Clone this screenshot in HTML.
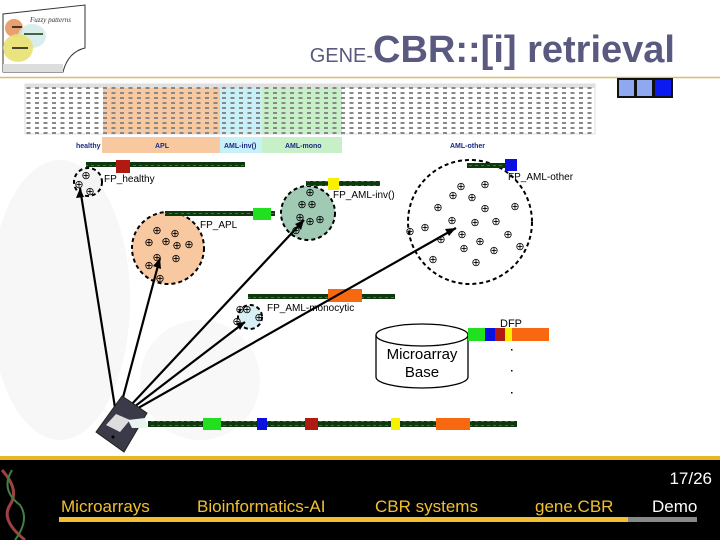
<!DOCTYPE html>
<html><head><meta charset="utf-8"><style>
html,body{margin:0;padding:0;width:720px;height:540px;overflow:hidden;background:#fff;font-family:"Liberation Sans",sans-serif}
</style></head><body>
<svg width="720" height="540" viewBox="0 0 720 540" xmlns="http://www.w3.org/2000/svg" font-family="Liberation Sans, sans-serif">
<defs>
<pattern id="cells" x="25" y="86" width="8.5" height="5" patternUnits="userSpaceOnUse">
<rect x="1.5" y="1" width="4" height="2" fill="#888"/>
</pattern>
<pattern id="gene" x="0" y="0" width="6" height="4" patternUnits="userSpaceOnUse">
<rect width="6" height="4" fill="#0d3a0d"/><rect x="1" y="1" width="3" height="1" fill="#3a7a3a"/>
</pattern>
</defs>
<ellipse cx="60" cy="300" rx="70" ry="140" fill="#f7f7f7"/>
<ellipse cx="200" cy="380" rx="60" ry="60" fill="#f8f8f8"/>
<path d="M3,14 L85,5 L85,48 Q68,52 63,72 L3,72 Z" fill="#fff" stroke="#333" stroke-width="1"/>
<ellipse cx="14" cy="28" rx="9" ry="9" fill="#e8a070"/>
<ellipse cx="32" cy="36" rx="14" ry="12" fill="#cfe8e8" opacity="0.8"/>
<ellipse cx="18" cy="48" rx="15" ry="14" fill="#e8e070" opacity="0.9"/>
<rect x="3" y="64" width="60" height="8" fill="#ddd"/>
<text x="30" y="22" font-size="7" font-style="italic" fill="#333" font-family="Liberation Serif, serif">Fuzzy patterns</text>
<line x1="12" y1="27" x2="22" y2="27" stroke="#111" stroke-width="1.5"/>
<line x1="24" y1="34" x2="43" y2="34" stroke="#0d3a0d" stroke-width="1.5"/>
<line x1="12" y1="48" x2="28" y2="48" stroke="#111" stroke-width="1.5"/>
<text x="675" y="62" text-anchor="end" fill="#5a5a80" font-weight="bold"><tspan font-size="20" font-weight="normal">GENE-</tspan><tspan font-size="38">CBR::[i] retrieval</tspan></text>
<line x1="0" y1="77.5" x2="720" y2="77.5" stroke="#d8c060" stroke-width="1.5"/>
<rect x="617" y="78" width="56" height="20" fill="#111"/>
<rect x="619" y="80" width="15" height="16" fill="#8fa8f0"/>
<rect x="637" y="80" width="15" height="16" fill="#8fa8f0"/>
<rect x="655" y="80" width="16" height="16" fill="#0a1af0"/>
<rect x="25" y="84" width="570" height="50" fill="#fff" stroke="#bbb" stroke-width="0.5"/>
<rect x="103" y="88" width="117" height="46" fill="#f8c8a0"/>
<rect x="220" y="88" width="42" height="46" fill="#c8f0f8"/>
<rect x="262" y="88" width="80" height="46" fill="#c8f0c8"/>
<rect x="25" y="84" width="570" height="4" fill="#e0e0e0"/>
<rect x="25" y="86" width="570" height="48" fill="url(#cells)"/>
<rect x="102" y="137" width="118" height="16" fill="#f8c8a0"/>
<rect x="220" y="137" width="42" height="16" fill="#c8f0f8"/>
<rect x="262" y="137" width="80" height="16" fill="#c8f0c8"/>
<g font-size="7" fill="#1a2a80" font-weight="bold">
<text x="76" y="148">healthy</text><text x="155" y="148">APL</text><text x="224" y="148">AML-inv()</text><text x="285" y="148">AML-mono</text><text x="450" y="148">AML-other</text>
</g>
<circle cx="88" cy="182" r="14" fill="#f4f4f4" stroke="#000" stroke-width="2" stroke-dasharray="4,3"/>
<circle cx="168" cy="248" r="36" fill="#f8c8a0" stroke="#000" stroke-width="2" stroke-dasharray="4,3"/>
<circle cx="308" cy="213" r="27" fill="#a0cab4" stroke="#000" stroke-width="2" stroke-dasharray="4,3"/>
<circle cx="470" cy="222" r="62" fill="none" stroke="#000" stroke-width="2" stroke-dasharray="4,3"/>
<circle cx="250" cy="317" r="12" fill="#d8f0f4" stroke="#000" stroke-width="2" stroke-dasharray="4,3"/>
<g font-size="11" fill="#000" text-anchor="middle">
<text x="86" y="179">⊕</text><text x="79" y="188">⊕</text><text x="90" y="195">⊕</text>
<text x="157" y="234">⊕</text><text x="175" y="237">⊕</text><text x="149" y="246">⊕</text><text x="166" y="245">⊕</text><text x="177" y="249">⊕</text><text x="189" y="248">⊕</text><text x="157" y="261">⊕</text><text x="176" y="262">⊕</text><text x="149" y="269">⊕</text><text x="160" y="282">⊕</text>
<text x="310" y="196">⊕</text><text x="302" y="208">⊕</text><text x="312" y="208">⊕</text><text x="300" y="221">⊕</text><text x="310" y="225">⊕</text><text x="320" y="223">⊕</text><text x="296" y="234">⊕</text>
<text x="461" y="190">⊕</text><text x="453" y="199">⊕</text><text x="472" y="201">⊕</text><text x="485" y="188">⊕</text><text x="438" y="211">⊕</text><text x="485" y="212">⊕</text><text x="515" y="210">⊕</text><text x="452" y="224">⊕</text><text x="475" y="226">⊕</text><text x="496" y="225">⊕</text><text x="425" y="231">⊕</text><text x="410" y="235">⊕</text><text x="462" y="238">⊕</text><text x="480" y="245">⊕</text><text x="508" y="238">⊕</text><text x="441" y="243">⊕</text><text x="464" y="252">⊕</text><text x="494" y="254">⊕</text><text x="520" y="250">⊕</text><text x="433" y="263">⊕</text><text x="476" y="266">⊕</text>
<text x="240" y="313">⊕</text><text x="247" y="313">⊕</text><text x="237" y="325">⊕</text><text x="259" y="321">⊕</text>
</g>
<rect x="86" y="162" width="159" height="5" fill="url(#gene)"/><rect x="116" y="160" width="14" height="13" fill="#b01a10"/>
<rect x="165" y="211" width="110" height="5" fill="url(#gene)"/><rect x="253" y="208" width="18" height="12" fill="#20e020"/>
<rect x="306" y="181" width="74" height="5" fill="url(#gene)"/><rect x="328" y="178" width="11" height="12" fill="#f8f000"/>
<rect x="467" y="163" width="48" height="5" fill="url(#gene)"/><rect x="505" y="159" width="12" height="12" fill="#0a10e0"/>
<rect x="248" y="294" width="147" height="5" fill="url(#gene)"/><rect x="328" y="289" width="34" height="13" fill="#f86810"/>
<g font-size="10" fill="#000">
<text x="104" y="182">FP_healthy</text><text x="200" y="228">FP_APL</text><text x="333" y="198">FP_AML-inv()</text><text x="508" y="180">FP_AML-other</text><text x="267" y="311">FP_AML-monocytic</text>
</g>
<g stroke="#000" stroke-width="2.2">
<line x1="117" y1="420" x2="80" y2="188"/>
<line x1="117" y1="420" x2="160" y2="258"/>
<line x1="117" y1="420" x2="304" y2="220"/>
<line x1="117" y1="420" x2="456" y2="228"/>
<line x1="117" y1="420" x2="245" y2="322"/>
</g>
<g fill="#000">
<polygon points="80,188 76,198 84,197"/>
<polygon points="160,258 153,266 161,269"/>
<polygon points="304,220 295,224 301,230"/>
<polygon points="456,228 445,229 449,236"/>
<polygon points="245,322 236,323 240,330"/>
</g>
<polygon points="96,432 122,396 147,413 124,452" fill="#3a3a48" stroke="#222"/>
<polygon points="106,425 116,414 130,420 120,432" fill="#ddd"/>
<polygon points="128,420 145,418 148,428 132,428" fill="#e8f4f0"/>
<circle cx="113" cy="437" r="1.5" fill="#000"/>
<path d="M376,335 L376,377 A46,11 0 0 0 468,377 L468,335" fill="#fff" stroke="#000" stroke-width="1.3"/>
<ellipse cx="422" cy="335" rx="46" ry="11" fill="#fff" stroke="#000" stroke-width="1.3"/>
<text x="422" y="359" text-anchor="middle" font-size="15" fill="#000">Microarray</text>
<text x="422" y="377" text-anchor="middle" font-size="15" fill="#000">Base</text>
<text x="500" y="327" font-size="11" fill="#000">DFP</text>
<rect x="468" y="328" width="17" height="13" fill="#20e020"/><rect x="485" y="328" width="10" height="13" fill="#0a10e0"/><rect x="495" y="328" width="10" height="13" fill="#b01a10"/><rect x="505" y="328" width="7" height="13" fill="#f8f000"/><rect x="512" y="328" width="37" height="13" fill="#f86810"/>
<g fill="#000"><rect x="511" y="349" width="1.5" height="1.5"/><rect x="511" y="370" width="1.5" height="1.5"/><rect x="511" y="392" width="1.5" height="1.5"/></g>
<rect x="148" y="421" width="369" height="6" fill="url(#gene)"/>
<rect x="203" y="418" width="18" height="12" fill="#20e020"/><rect x="257" y="418" width="10" height="12" fill="#0a10e0"/><rect x="305" y="418" width="13" height="12" fill="#b01a10"/><rect x="391" y="418" width="9" height="12" fill="#f8f000"/><rect x="436" y="418" width="34" height="12" fill="#f86810"/>
<rect x="0" y="460" width="720" height="80" fill="#000"/>
<rect x="0" y="456" width="720" height="4" fill="#e8b820"/>
<path d="M2,470 Q20,490 10,505 Q0,520 25,540" stroke="#a04040" stroke-width="3" fill="none"/>
<path d="M12,470 Q0,490 20,505 Q30,520 15,540" stroke="#408040" stroke-width="2" fill="none"/>
<text x="712" y="484" text-anchor="end" font-size="17" fill="#fff">17/26</text>
<g font-size="17" fill="#f0c030">
<text x="61" y="512">Microarrays</text><text x="197" y="512">Bioinformatics-AI</text><text x="375" y="512">CBR systems</text><text x="535" y="512">gene.CBR</text>
</g>
<text x="652" y="512" font-size="17" fill="#fff">Demo</text>
<rect x="59" y="517" width="569" height="5" fill="#f0c030"/>
<rect x="628" y="517" width="69" height="5" fill="#888"/>
</svg>
</body></html>
